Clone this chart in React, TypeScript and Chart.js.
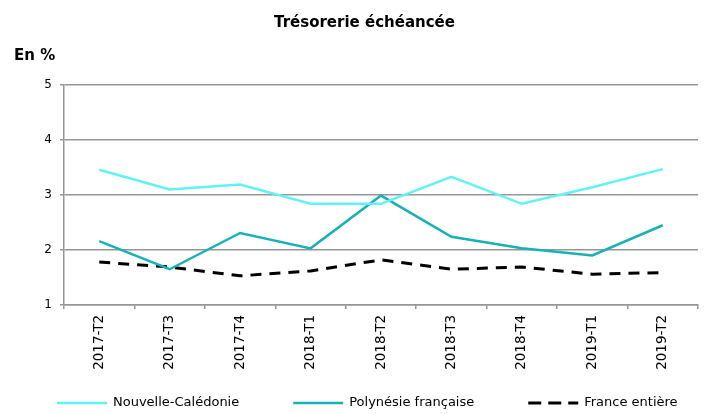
import { useEffect, useRef } from "react";
import { Chart, registerables } from "chart.js";

Chart.register(...registerables);

const categories = ["2017-T2", "2017-T3", "2017-T4", "2018-T1", "2018-T2", "2018-T3", "2018-T4", "2019-T1", "2019-T2"];
const nouvelleCaledonie = [3.46, 3.1, 3.19, 2.84, 2.84, 3.33, 2.84, 3.14, 3.47];
const polynesieFrancaise = [2.16, 1.65, 2.31, 2.03, 2.99, 2.24, 2.03, 1.9, 2.45];
const franceEntiere = [1.78, 1.69, 1.53, 1.62, 1.82, 1.65, 1.69, 1.56, 1.59];
const yTicks = [1, 2, 3, 4, 5];
const seriesNames = ["Nouvelle-Calédonie", "Polynésie française", "France entière"];
const chartTitle = "Trésorerie échéancée";
const unitLabel = "En %";

const FONT = "'DejaVu Sans', Verdana, sans-serif";
const GRID = "#969696";

const textPlugin = {
  id: "textAndLegend",
  afterDraw(chart: any) {
    const ctx = chart.ctx as CanvasRenderingContext2D;
    ctx.save();
    ctx.fillStyle = "#000";
    ctx.font = `bold 15px ${FONT}`;
    ctx.textBaseline = "alphabetic";
    ctx.textAlign = "center";
    ctx.fillText(chartTitle, 364.5, 27);
    ctx.textAlign = "left";
    ctx.fillText(unitLabel, 14, 60);

    ctx.font = `13px ${FONT}`;
    ctx.textBaseline = "middle";
    let x = 57;
    const y = 403;
    chart.data.datasets.forEach((ds: any) => {
      ctx.beginPath();
      ctx.setLineDash(ds.legendDash || []);
      ctx.lineCap = "butt";
      ctx.strokeStyle = ds.borderColor;
      ctx.lineWidth = ds.borderWidth;
      ctx.moveTo(x, y);
      ctx.lineTo(x + 50, y);
      ctx.stroke();
      ctx.setLineDash([]);
      ctx.fillStyle = "#000";
      ctx.fillText(ds.label, x + 56, y);
      x += 56 + ctx.measureText(ds.label).width + 54;
    });
    ctx.restore();
  },
};

export default function App() {
  const ref = useRef<HTMLCanvasElement | null>(null);
  useEffect(() => {
    if (!ref.current) return;
    const chart = new Chart(ref.current, {
      type: "line",
      data: {
        labels: categories,
        datasets: [
          {
            label: seriesNames[0],
            data: nouvelleCaledonie,
            borderColor: "#5ff2f6",
            borderWidth: 2.5,
            pointRadius: 0,
            tension: 0,
            fill: false,
          } as any,
          {
            label: seriesNames[1],
            data: polynesieFrancaise,
            borderColor: "#17b2b6",
            borderWidth: 2.5,
            pointRadius: 0,
            tension: 0,
            fill: false,
          } as any,
          {
            label: seriesNames[2],
            data: franceEntiere,
            borderColor: "#000000",
            borderWidth: 3,
            borderDash: [11, 8],
            legendDash: [13, 7],
            pointRadius: 0,
            tension: 0,
            fill: false,
          } as any,
        ],
      },
      options: {
        responsive: false,
        maintainAspectRatio: false,
        animation: false,
        layout: { padding: { top: 85, right: 11, bottom: 0, left: 0 } },
        plugins: {
          legend: { display: false },
          title: { display: false },
          tooltip: { enabled: false },
        },
        events: [],
        scales: {
          x: {
            type: "category",
            offset: true,
            grid: {
              offset: true,
              drawOnChartArea: false,
              drawTicks: true,
              tickLength: 4,
              color: GRID,
              lineWidth: 1.5,
            },
            border: { display: true, color: GRID, width: 1.5 },
            ticks: {
              autoSkip: false,
              maxRotation: 90,
              minRotation: 90,
              padding: 6,
              color: "#000",
              font: { family: FONT, size: 13.5 },
            },
            afterFit: (s: any) => {
              s.height = 109;
            },
          },
          y: {
            min: 1,
            max: 5,
            afterBuildTicks: (s: any) => {
              s.ticks = yTicks.map((v) => ({ value: v }));
            },
            ticks: {
              padding: 8,
              color: "#000",
              font: { family: FONT, size: 12 },
            },
            grid: { color: GRID, lineWidth: 1.5, tickLength: 4, drawTicks: true },
            border: { display: true, color: GRID, width: 1.5 },
            afterFit: (s: any) => {
              s.width = 64;
            },
          },
        },
      },
      plugins: [textPlugin],
    });
    return () => chart.destroy();
  }, []);
  return (
    <div style={{ position: "absolute", left: 0, top: 0, width: 709, height: 414, background: "#fff" }}>
      <canvas ref={ref} width={709} height={414} style={{ width: 709, height: 414 }} />
    </div>
  );
}
